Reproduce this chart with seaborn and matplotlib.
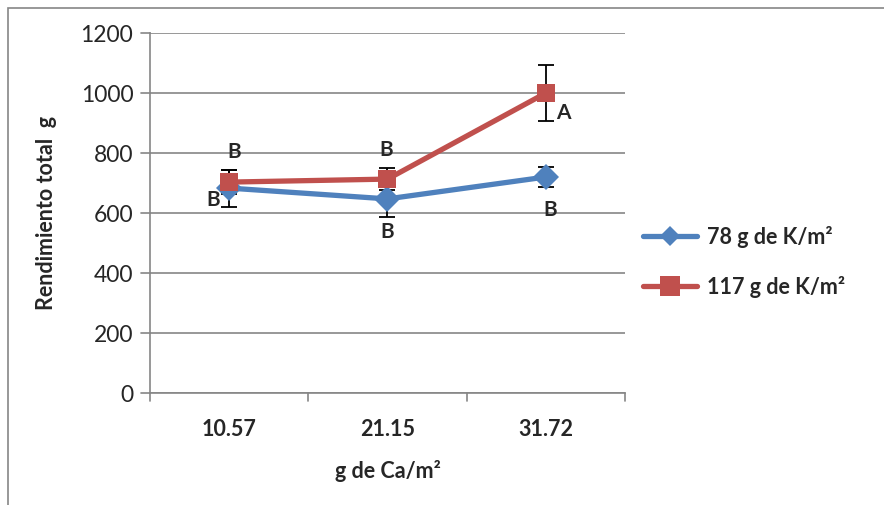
import matplotlib
matplotlib.use("Agg")
import matplotlib.pyplot as plt
from matplotlib.patches import Rectangle
import seaborn as sns
import pandas as pd
import numpy as np

# --- data ---
CA_DOSES = ["10.57", "21.15", "31.72"]
SERIES = ["78 g de K/m²", "117 g de K/m²"]
yield_78 = [683, 647, 720]
yield_117 = [703, 713, 1000]
err_78 = [62, 60, 33]
err_117 = [40, 37, 93]
letters_78 = ["B", "B", "B"]
letters_117 = ["B", "B", "A"]

COLORS = {SERIES[0]: "#4F81BD", SERIES[1]: "#C0504D"}
MARKERS = {SERIES[0]: "D", SERIES[1]: "s"}

df = pd.DataFrame({
    "dose": list(range(len(CA_DOSES))) * 2,
    "yield": yield_78 + yield_117,
    "err": err_78 + err_117,
    "series": [SERIES[0]] * 3 + [SERIES[1]] * 3,
})

sns.set_style("white")
plt.rcParams["font.family"] = ["Lato", "DejaVu Sans"]

fig = plt.figure(figsize=(8.84, 5.05), dpi=100)
ax = fig.add_axes([150 / 884, 1 - 393 / 505, 475 / 884, 360 / 505])

# chart-area border (Excel style, clipped on right/bottom)
fig.patches.append(Rectangle((8 / 884, -0.1), 1.2, 1 - 8 / 505 + 0.1,
                             transform=fig.transFigure, fill=False,
                             edgecolor="#868686", linewidth=1.2))

# error bars first so lines sit on top
for s in SERIES:
    d = df[df["series"] == s]
    ax.errorbar(d["dose"], d["yield"], yerr=d["err"], fmt="none",
                ecolor="black", elinewidth=1.3, capsize=6, capthick=1.3, zorder=2)

sns.lineplot(data=df, x="dose", y="yield", hue="series", style="series",
             palette=COLORS, markers=MARKERS, dashes=False, linewidth=3.8,
             markersize=13, markeredgewidth=0, ax=ax, zorder=3, legend=True)
# square a bit larger than the diamond
ax.lines[-1].set_markersize(16)

# significance letters
off_78 = [(-0.1, -40), (0.0, -110), (0.03, -110)]
off_117 = [(0.03, 100), (-0.01, 97), (0.11, -67)]
for i in range(3):
    ax.text(i + off_78[i][0], yield_78[i] + off_78[i][1], letters_78[i],
            ha="center", va="center", fontsize=15, fontweight="bold", zorder=4)
    ax.text(i + off_117[i][0], yield_117[i] + off_117[i][1], letters_117[i],
            ha="center", va="center", fontsize=15, fontweight="bold", zorder=4)

ax.set_xlim(-0.5, 2.5)
ax.set_ylim(0, 1200)
ax.set_yticks(np.arange(0, 1201, 200))
ax.set_xticks([0, 1, 2])
ax.set_xticklabels(CA_DOSES, fontsize=15.5, fontweight="bold")
ax.tick_params(axis="y", labelsize=16.5, length=0, pad=12)
ax.tick_params(axis="x", length=0, pad=19)
ax.yaxis.grid(True, color="#868686", linewidth=1.2)
ax.set_axisbelow(True)

for side in ["top", "right"]:
    ax.spines[side].set_visible(False)
for side in ["left", "bottom"]:
    ax.spines[side].set_color("#868686")
    ax.spines[side].set_linewidth(1.2)

# outward tick marks like Excel
for yv in np.arange(0, 1201, 200):
    ax.plot([-0.5 - 0.057, -0.5], [yv, yv], color="#868686", lw=1.2,
            clip_on=False)
for xv in [-0.5, 0.5, 1.5, 2.5]:
    ax.plot([xv, xv], [0, -25], color="#868686", lw=1.2, clip_on=False)

ax.set_xlabel("g de Ca/m²", fontsize=15.5, fontweight="bold", labelpad=14)
ax.set_ylabel("Rendimiento total  g", fontsize=15.5, fontweight="bold", labelpad=17)

handles, labels = ax.get_legend_handles_labels()
for h, ms in zip(handles, [10, 14]):
    h.set_linewidth(3.8)
    h.set_markersize(ms)
leg = ax.legend(handles, labels, loc="center left",
                bbox_to_anchor=(632 / 884, 1 - 262 / 505),
                bbox_transform=fig.transFigure, frameon=False,
                prop={"size": 15.5, "weight": "bold"}, handlelength=2.5,
                labelspacing=1.3, handletextpad=0.5, borderpad=0)

fig.savefig("out.png", dpi=100)
